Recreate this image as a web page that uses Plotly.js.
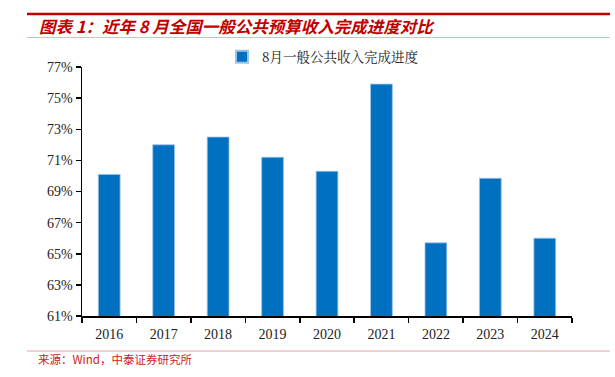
<!DOCTYPE html>
<html><head><meta charset="utf-8">
<script src="https://cdn.plot.ly/plotly-3.0.1.min.js"></script>
<style>html,body{margin:0;padding:0;background:#fff;}#c{width:615px;height:377px;}</style>
</head><body><div id="c"></div>
<script>
const years = ['2016','2017','2018','2019','2020','2021','2022','2023','2024'];
const progress = [70.1, 72.0, 72.5, 71.2, 70.3, 75.9, 65.7, 69.85, 66.0];
const yTicks = [61, 63, 65, 67, 69, 71, 73, 75, 77];
const yTickLabels = yTicks.map(v => v + '%');
const seriesName = '8月一般公共收入完成进度';
const chartTitle = '图表 1：近年 8 月全国一般公共预算收入完成进度对比';
const sourceText = '来源：Wind，中泰证券研究所';

const L = 82, R = 572, T = 67, B = 316, W = 615, H = 377;
const px = x => (x - L) / (R - L);
const py = y => (B - y) / (B - T);

const trace = {
  type: 'bar', x: years, y: progress, name: seriesName,
  marker: {color: '#0070C0', line: {color: '#9DC3E6', width: 0.8}},
  showlegend: true
};
const layout = {
  width: W, height: H,
  margin: {l: L, r: W - R, t: T, b: H - B, pad: 0},
  paper_bgcolor: '#fff', plot_bgcolor: '#fff',
  bargap: 0.6,
  showlegend: true,
  legend: {orientation: 'h', x: px(222), xanchor: 'left', y: py(57), yanchor: 'middle',
    font: {family: 'Noto Serif CJK SC, Noto Sans CJK SC, serif', size: 13.5, color: '#222'},
    itemwidth: 30, itemsizing: 'constant', bgcolor: 'rgba(0,0,0,0)'},
  xaxis: {type: 'category', showline: true, linecolor: '#000', linewidth: 1.5,
    ticks: 'outside', ticklen: 5, tickcolor: '#000', tickwidth: 1.5, tickson: 'boundaries',
    ticklabelstandoff: 5,
    showgrid: false, zeroline: false,
    tickfont: {family: 'Liberation Serif, Times New Roman, serif', size: 14, color: '#222'}},
  yaxis: {range: [61, 77], tickvals: yTicks, ticktext: yTickLabels,
    showline: true, linecolor: '#000', linewidth: 1.5,
    ticks: 'outside', ticklen: 5, tickcolor: '#000', tickwidth: 1.5,
    showgrid: false, zeroline: false,
    tickfont: {family: 'Liberation Serif, Times New Roman, serif', size: 14, color: '#222'}},
  shapes: [
    {type: 'line', xref: 'paper', yref: 'paper', x0: px(27), x1: px(610), y0: py(14), y1: py(14),
      line: {color: '#C00000', width: 2.5}},
    {type: 'line', xref: 'paper', yref: 'paper', x0: px(27), x1: px(610), y0: py(37.5), y1: py(37.5),
      line: {color: '#E8B4B4', width: 1}},
    {type: 'line', xref: 'paper', yref: 'paper', x0: px(27), x1: px(610), y0: py(351), y1: py(351),
      line: {color: '#E8A0A0', width: 1}}
  ],
  annotations: [
    {xref: 'paper', yref: 'paper', x: px(37), y: py(26), xanchor: 'left', yanchor: 'middle',
      text: '<b><i>' + chartTitle + '</i></b>', showarrow: false,
      font: {family: 'Noto Sans CJK SC, sans-serif', size: 16.5, color: '#C00000'}},
    {xref: 'paper', yref: 'paper', x: px(36), y: py(359), xanchor: 'left', yanchor: 'middle',
      text: sourceText, showarrow: false,
      font: {family: 'Noto Sans CJK SC, DejaVu Sans Mono, monospace', size: 11.5, color: '#D02020'}}
  ]
};
Plotly.newPlot('c', [trace], layout, {displayModeBar: false, staticPlot: true});
</script></body></html>
